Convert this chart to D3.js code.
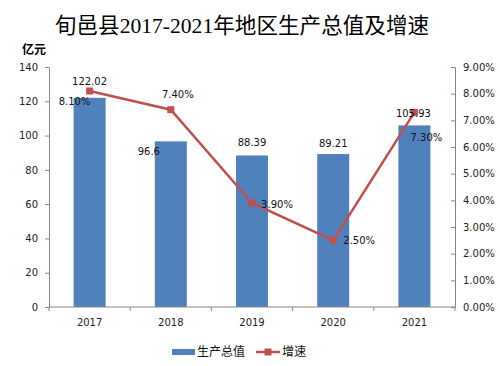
<!DOCTYPE html>
<html><head><meta charset="utf-8">
<script src="https://cdn.jsdelivr.net/npm/d3@7/dist/d3.min.js"></script>
<style>body{margin:0;background:#fff}svg{display:block}</style>
</head><body>
<script>
const years = ["2017","2018","2019","2020","2021"];
const gdp = [122.02, 96.6, 88.39, 89.21, 105.93];
const growth = [8.10, 7.40, 3.90, 2.50, 7.30];
const gdpLabels = ["122.02","96.6","88.39","89.21","105.93"];
const growthLabels = ["8.10%","7.40%","3.90%","2.50%","7.30%"];
const leftTicks = [0,20,40,60,80,100,120,140];
const rightTicks = [0,1,2,3,4,5,6,7,8,9];
const title = "旬邑县2017-2021年地区生产总值及增速";
const unitLabel = "亿元";
const legendNames = ["生产总值","增速"];

// label placement offsets (presentation)
const gdpLabelOff = [[0,-16],[-22,10],[0,-13],[0,-11],[-1,-12]];
const growthLabelOff = [[-15,10],[7,-15],[25,1],[26,0],[12,25]];

const W=500,H=366;
const m={l:49,r:455,t:67,b:307};
const svg=d3.select("body").append("svg").attr("width",W).attr("height",H);
const x=d3.scaleBand().domain(years).range([m.l,m.r]).paddingInner(0).paddingOuter(0);
const yL=d3.scaleLinear().domain([0,140]).range([m.b,m.t]);
const yR=d3.scaleLinear().domain([0,9]).range([m.b,m.t]);
const axisColor="#868686";
const sans="'DejaVu Sans', Verdana, sans-serif";
const cjk="'Noto Sans CJK SC', sans-serif";

svg.append("text").attr("x",242).attr("y",33).attr("text-anchor","middle")
  .attr("font-family","'Liberation Serif', 'Noto Sans CJK SC', serif").attr("font-size",21.6)
  .attr("fill","#000").text(title);

svg.append("text").attr("x",22).attr("y",54).attr("font-family",cjk).attr("font-weight","bold")
  .attr("font-size",12).attr("fill","#000").text(unitLabel);

// bars
const bw=32;
svg.selectAll("rect.bar").data(years).enter().append("rect")
  .attr("x",d=>x(d)+x.bandwidth()/2-bw/2).attr("width",bw)
  .attr("y",(d,i)=>yL(gdp[i])).attr("height",(d,i)=>yL(0)-yL(gdp[i]))
  .attr("fill","#4F81BD");

// axes
const gL=svg.append("g").attr("transform",`translate(${m.l},0)`)
  .call(d3.axisLeft(yL).tickValues(leftTicks).tickSize(4).tickPadding(7).tickSizeOuter(0));
const gR=svg.append("g").attr("transform",`translate(${m.r},0)`)
  .call(d3.axisRight(yR).tickValues(rightTicks).tickSize(-4).tickPadding(8).tickSizeOuter(0).tickFormat(d=>d.toFixed(2)+"%"));
const gX=svg.append("g").attr("transform",`translate(0,${m.b})`)
  .call(d3.axisBottom(x).tickSize(0).tickPadding(12));
const bounds=years.map(d=>x(d)).concat([m.r]);
svg.selectAll("line.xt").data(bounds).enter().append("line")
  .attr("x1",d=>d).attr("x2",d=>d).attr("y1",m.b).attr("y2",m.b+4).attr("stroke",axisColor);
[gL,gR,gX].forEach(g=>{
  g.selectAll(".domain").attr("stroke",axisColor);
  g.selectAll(".tick line").attr("stroke",axisColor);
  g.selectAll("text").attr("font-family",sans).attr("font-size",10).attr("fill","#222");
});
gX.select(".domain").attr("d",`M${m.l},0H${m.r}`);

// line
const pts=years.map((d,i)=>[x(d)+x.bandwidth()/2,yR(growth[i])]);
svg.append("path").attr("d",d3.line()(pts)).attr("fill","none").attr("stroke","#C0504D").attr("stroke-width",2.5);
svg.selectAll("rect.mk").data(pts).enter().append("rect")
  .attr("x",d=>d[0]-3.5).attr("y",d=>d[1]-3.5).attr("width",7).attr("height",7).attr("fill","#C0504D");

// labels
svg.selectAll("text.gl").data(years).enter().append("text")
  .attr("x",(d,i)=>x(d)+x.bandwidth()/2+gdpLabelOff[i][0])
  .attr("y",(d,i)=>yL(gdp[i])+gdpLabelOff[i][1]).attr("dy","0.35em")
  .attr("text-anchor","middle").attr("font-family",sans).attr("font-size",10).attr("fill","#111")
  .text((d,i)=>gdpLabels[i]);
svg.selectAll("text.pl").data(pts).enter().append("text")
  .attr("x",(d,i)=>d[0]+growthLabelOff[i][0]).attr("y",(d,i)=>d[1]+growthLabelOff[i][1]).attr("dy","0.35em")
  .attr("text-anchor","middle").attr("font-family",sans).attr("font-size",10).attr("fill","#111")
  .text((d,i)=>growthLabels[i]);

// legend
const ly=352;
svg.append("rect").attr("x",172).attr("y",ly-3).attr("width",23).attr("height",6).attr("fill","#4F81BD");
svg.append("text").attr("x",197).attr("y",ly).attr("dy","0.35em").attr("font-family",cjk).attr("font-size",12).attr("fill","#111").text(legendNames[0]);
svg.append("line").attr("x1",256).attr("x2",280).attr("y1",ly).attr("y2",ly).attr("stroke","#C0504D").attr("stroke-width",2.5);
svg.append("rect").attr("x",264.5).attr("y",ly-3.5).attr("width",7).attr("height",7).attr("fill","#C0504D");
svg.append("text").attr("x",282).attr("y",ly).attr("dy","0.35em").attr("font-family",cjk).attr("font-size",12).attr("fill","#111").text(legendNames[1]);
</script>
</body></html>
